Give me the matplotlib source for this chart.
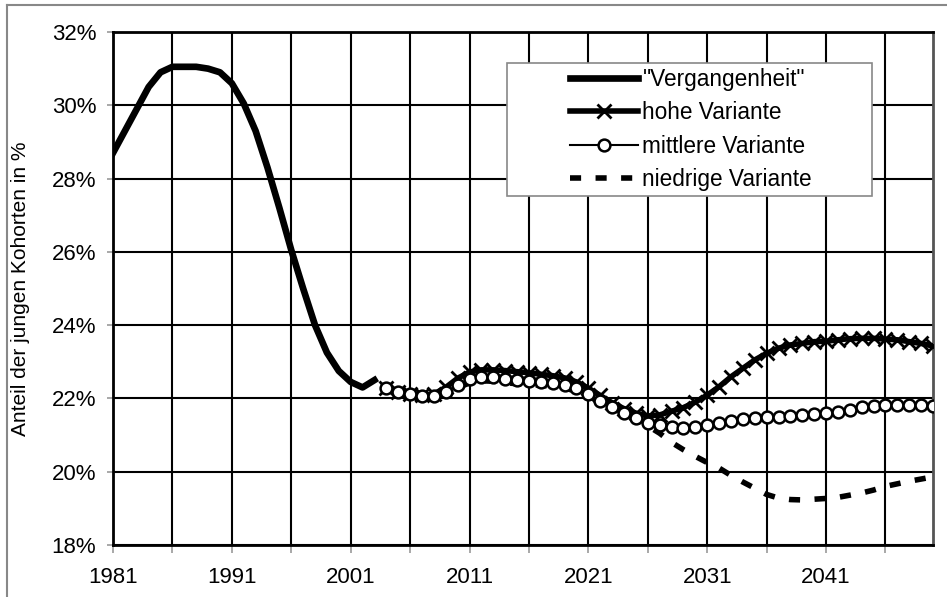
import matplotlib
matplotlib.use("Agg")
import matplotlib.pyplot as plt
from matplotlib.lines import Line2D
from matplotlib.patches import Rectangle
from matplotlib.ticker import FuncFormatter, MultipleLocator
import numpy as np

plt.rcParams['font.family'] = ['Liberation Sans', 'DejaVu Sans']

# Anteil der jungen Kohorten in %, gelesen aus der Grafik
years_past = np.arange(1981, 2004)
past = [28.7, 29.3, 29.9, 30.5, 30.9, 31.05, 31.05, 31.05, 31.0, 30.9,
        30.6, 30.05, 29.3, 28.3, 27.2, 26.05, 25.0, 24.0, 23.25, 22.75,
        22.45, 22.3, 22.5]

years_proj = np.arange(2004, 2051)
hohe = [22.28, 22.17, 22.12, 22.08, 22.12, 22.3, 22.55, 22.72, 22.78, 22.78,
        22.76, 22.73, 22.7, 22.66, 22.62, 22.56, 22.45, 22.28, 22.08, 21.88,
        21.72, 21.6, 21.52, 21.55, 21.65, 21.75, 21.9, 22.09, 22.32, 22.59,
        22.82, 23.05, 23.23, 23.37, 23.46, 23.5, 23.55, 23.56, 23.6, 23.63,
        23.64, 23.64, 23.62, 23.6, 23.55, 23.5, 23.43]
mittlere = [22.28, 22.17, 22.11, 22.07, 22.07, 22.18, 22.37, 22.52, 22.59, 22.58,
            22.53, 22.5, 22.48, 22.46, 22.43, 22.37, 22.28, 22.12, 21.94, 21.77,
            21.6, 21.46, 21.32, 21.28, 21.21, 21.18, 21.21, 21.27, 21.34, 21.39,
            21.44, 21.46, 21.49, 21.5, 21.53, 21.55, 21.58, 21.6, 21.64, 21.68,
            21.76, 21.79, 21.82, 21.82, 21.82, 21.82, 21.79]
niedrige = [22.26, 22.15, 22.09, 22.05, 22.05, 22.14, 22.3, 22.42, 22.48, 22.47,
            22.43, 22.4, 22.38, 22.36, 22.33, 22.28, 22.2, 22.06, 21.9, 21.74,
            21.58, 21.42, 21.25, 21.05, 20.8, 20.6, 20.42, 20.25, 20.1, 19.9,
            19.72, 19.55, 19.38, 19.28, 19.24, 19.23, 19.25, 19.27, 19.3, 19.36,
            19.42, 19.5, 19.6, 19.67, 19.74, 19.8, 19.86]

labels = ['"Vergangenheit"', 'hohe Variante', 'mittlere Variante', 'niedrige Variante']

W, H = 947, 597
fig = plt.figure(figsize=(W / 100, H / 100), dpi=100)
ax = fig.add_axes([113 / W, 1 - 545 / H, 820 / W, 513 / H])

ax.plot(years_past, past, color='black', lw=4.8, zorder=3)
ax.plot(years_proj, hohe, color='black', lw=4.0, marker='x', ms=10, mew=2.0, zorder=3)
ax.plot(years_proj, niedrige, color='black', lw=4.0, dashes=(2.0, 2.6),
        dash_capstyle='butt', zorder=3)
ax.plot(years_proj, mittlere, color='black', lw=1.5, marker='o', ms=8.5, mew=1.8,
        mfc='white', mec='black', zorder=4)

ax.set_xlim(1981, 2050)
ax.set_ylim(18, 32)
xt = np.arange(1981, 2050, 5)
ax.set_xticks(xt)
ax.set_xticklabels([str(y) if (y - 1981) % 10 == 0 else '' for y in xt])
ax.yaxis.set_major_locator(MultipleLocator(2))
ax.yaxis.set_major_formatter(FuncFormatter(lambda v, p: '%d%%' % v))

ax.grid(True, color='black', lw=1.5)
ax.set_axisbelow(True)
ax.tick_params(axis='x', direction='out', length=6, width=1.2, color='#999999',
               labelsize=16, pad=10)
ax.tick_params(axis='y', direction='out', length=4, width=1.2, color='#999999',
               labelsize=16, pad=8)
for side in ['top', 'bottom', 'left']:
    ax.spines[side].set_color('black')
    ax.spines[side].set_linewidth(2)
ax.spines['right'].set_color('#555555')
ax.spines['right'].set_linewidth(2)

ax.set_ylabel('Anteil der jungen Kohorten in %', fontsize=15)
ax.yaxis.set_label_coords((30 - 113) / 820, 0.5)

# Legende: Rahmen von Hand, Einträge ohne Rahmen
fig.add_artist(Rectangle((507 / W, 1 - 196 / H), 365 / W, 133 / H,
                         transform=fig.transFigure, facecolor='white',
                         edgecolor='#888888', lw=1.2, zorder=9))
handles = [
    Line2D([], [], color='black', lw=4.8),
    Line2D([], [], color='black', lw=4.0, marker='x', ms=10, mew=2.0),
    Line2D([], [], color='black', lw=1.5, marker='o', ms=8.5, mew=1.8, mfc='white'),
    Line2D([], [], color='black', lw=4.0, dashes=(2.0, 2.6), dash_capstyle='butt'),
]
leg = fig.legend(handles, labels, loc='upper left',
                 bbox_to_anchor=(570 / W, 1 - 68 / H), bbox_transform=fig.transFigure,
                 fontsize=16.3, frameon=False, handlelength=3.0, handletextpad=0.2,
                 borderpad=0, labelspacing=0.46, borderaxespad=0)
leg.set_zorder(10)

# grauer Rahmen oben und links
fig.add_artist(Line2D([7 / W, 1], [1 - 5 / H, 1 - 5 / H], color='#888888', lw=1.5))
fig.add_artist(Line2D([7 / W, 7 / W], [0, 1 - 5 / H], color='#888888', lw=1.5))

fig.savefig('out.png', dpi=100)
